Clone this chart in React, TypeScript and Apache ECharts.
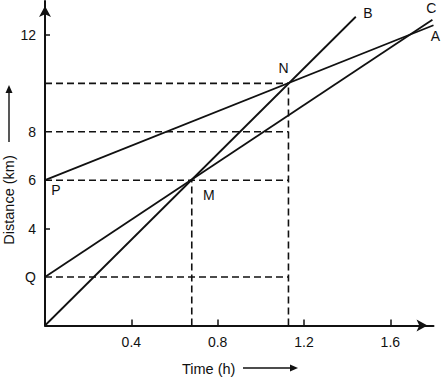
import React, { useEffect, useRef } from "react";
import * as echarts from "echarts";

// Data
const timeTicks = [0.4, 0.8, 1.2, 1.6];
const distTicks = [2, 4, 6, 8, 12];
const distTickMarks = [4, 12];

const lineATime = [0, 1.8];
const lineADist = [6, 12.4];
const lineBTime = [0, 1.44];
const lineBDist = [0, 12.75];
const lineCTime = [0, 1.795];
const lineCDist = [2, 12.63];

const pointNames = ["P", "M", "N"];
const pointTime = [0, 0.68, 1.128];
const pointDist = [6, 6, 10];

const guideDist = [10, 8, 6, 2];
const guideEndTime = 1.128;
const verticalTime = [0.68, 1.128];
const verticalTop = [6, 10];

const FONT = "'Liberation Sans', Arial, Helvetica, sans-serif";
const INK = "#111";

function pairs(t: number[], d: number[]) {
  return t.map((v, i) => [v, d[i]]);
}

export default function App() {
  const ref = useRef<HTMLDivElement>(null);
  useEffect(() => {
    if (!ref.current) return;
    const chart = echarts.init(ref.current, null, { renderer: "svg" });
    const dash = { color: INK, width: 1.6, type: [7, 4] as any };
    const guideSeries: any[] = [
      ...guideDist.map((y) => ({
        type: "line",
        data: [[0, y], [guideEndTime, y]],
        symbol: "none",
        lineStyle: dash,
        z: 1,
        silent: true,
      })),
      ...verticalTime.map((x, i) => ({
        type: "line",
        data: [[x, 0], [x, verticalTop[i]]],
        symbol: "none",
        lineStyle: dash,
        z: 1,
        silent: true,
      })),
    ];
    const solid = { color: INK, width: 1.8 };
    const lineSeries: any[] = [
      { t: lineATime, d: lineADist },
      { t: lineBTime, d: lineBDist },
      { t: lineCTime, d: lineCDist },
    ].map((l) => ({
      type: "line",
      data: pairs(l.t, l.d),
      symbol: "none",
      lineStyle: solid,
      z: 3,
      silent: true,
    }));

    const labelOffsets: Record<string, number[]> = {
      P: [11, 10],
      M: [17, 15],
      N: [-5, -15],
      A: [2, 11],
      B: [12, -4],
      C: [-1, -12],
    };
    const labelPoints = [
      ...pointNames.map((n, i) => ({ name: n, value: [pointTime[i], pointDist[i]] })),
      { name: "A", value: [lineATime[1], lineADist[1]] },
      { name: "B", value: [lineBTime[1], lineBDist[1]] },
      { name: "C", value: [lineCTime[1], lineCDist[1]] },
    ].map((p) => ({
      ...p,
      label: { offset: labelOffsets[p.name] },
    }));

    chart.setOption({
      animation: false,
      textStyle: { fontFamily: FONT },
      grid: { left: 45, right: 7.5, top: 1, bottom: 52.5, containLabel: false },
      xAxis: {
        type: "value",
        min: 0,
        max: 1.8,
        axisLine: {
          show: true,
          lineStyle: { color: INK, width: 2 },
          symbol: ["none", "arrow"],
          symbolSize: [9, 11],
          symbolOffset: [0, -6],
        },
        axisTick: {
          show: true,
          inside: true,
          length: 6,
          lineStyle: { color: INK, width: 1.5 },
          customValues: timeTicks,
        },
        axisLabel: {
          color: INK,
          fontSize: 14,
          margin: 9,
          fontFamily: FONT,
          customValues: timeTicks,
          formatter: (v: number) => v.toFixed(1),
        },
        splitLine: { show: false },
      },
      yAxis: {
        type: "value",
        min: 0,
        max: 13.4,
        axisLine: {
          show: true,
          lineStyle: { color: INK, width: 2 },
          symbol: ["none", "arrow"],
          symbolSize: [9, 11],
          symbolOffset: [0, -5],
        },
        axisTick: {
          show: true,
          inside: true,
          length: 5,
          lineStyle: { color: INK, width: 1.5 },
          customValues: distTickMarks,
        },
        axisLabel: {
          color: INK,
          fontSize: 14,
          margin: 9,
          fontFamily: FONT,
          customValues: distTicks,
          formatter: (v: number) => (v === 2 ? "Q" : String(v)),
        },
        splitLine: { show: false },
      },
      series: [
        ...guideSeries,
        ...lineSeries,
        {
          type: "scatter",
          data: labelPoints,
          symbolSize: 1,
          itemStyle: { color: "transparent" },
          silent: true,
          z: 5,
          label: {
            show: true,
            position: "inside",
            formatter: (p: any) => p.name,
            color: INK,
            fontSize: 14,
            fontFamily: FONT,
            textBorderWidth: 0,
            opacity: 1,
          },
        },
      ],
      graphic: [
        {
          type: "text",
          left: 182,
          top: 361,
          style: { text: "Time (h)", fill: INK, font: `14.5px ${FONT}` },
        },
        {
          type: "line",
          shape: { x1: 243, y1: 368, x2: 291, y2: 368 },
          style: { stroke: INK, lineWidth: 1.4 },
        },
        {
          type: "polygon",
          shape: { points: [[290, 364.5], [298, 368], [290, 371.5]] },
          style: { fill: INK },
        },
        {
          type: "text",
          x: 9,
          y: 200,
          rotation: Math.PI / 2,
          style: {
            text: "Distance (km)",
            fill: INK,
            font: `14.5px ${FONT}`,
            align: "center",
            verticalAlign: "middle",
          },
        },
        {
          type: "line",
          shape: { x1: 9, y1: 142, x2: 9, y2: 92 },
          style: { stroke: INK, lineWidth: 1.4 },
        },
        {
          type: "polygon",
          shape: { points: [[5.5, 93], [9, 85], [12.5, 93]] },
          style: { fill: INK },
        },
      ],
    });
    return () => chart.dispose();
  }, []);
  return (
    <div
      ref={ref}
      style={{ position: "fixed", left: 0, top: 0, width: 441, height: 378, background: "#fff" }}
    />
  );
}
